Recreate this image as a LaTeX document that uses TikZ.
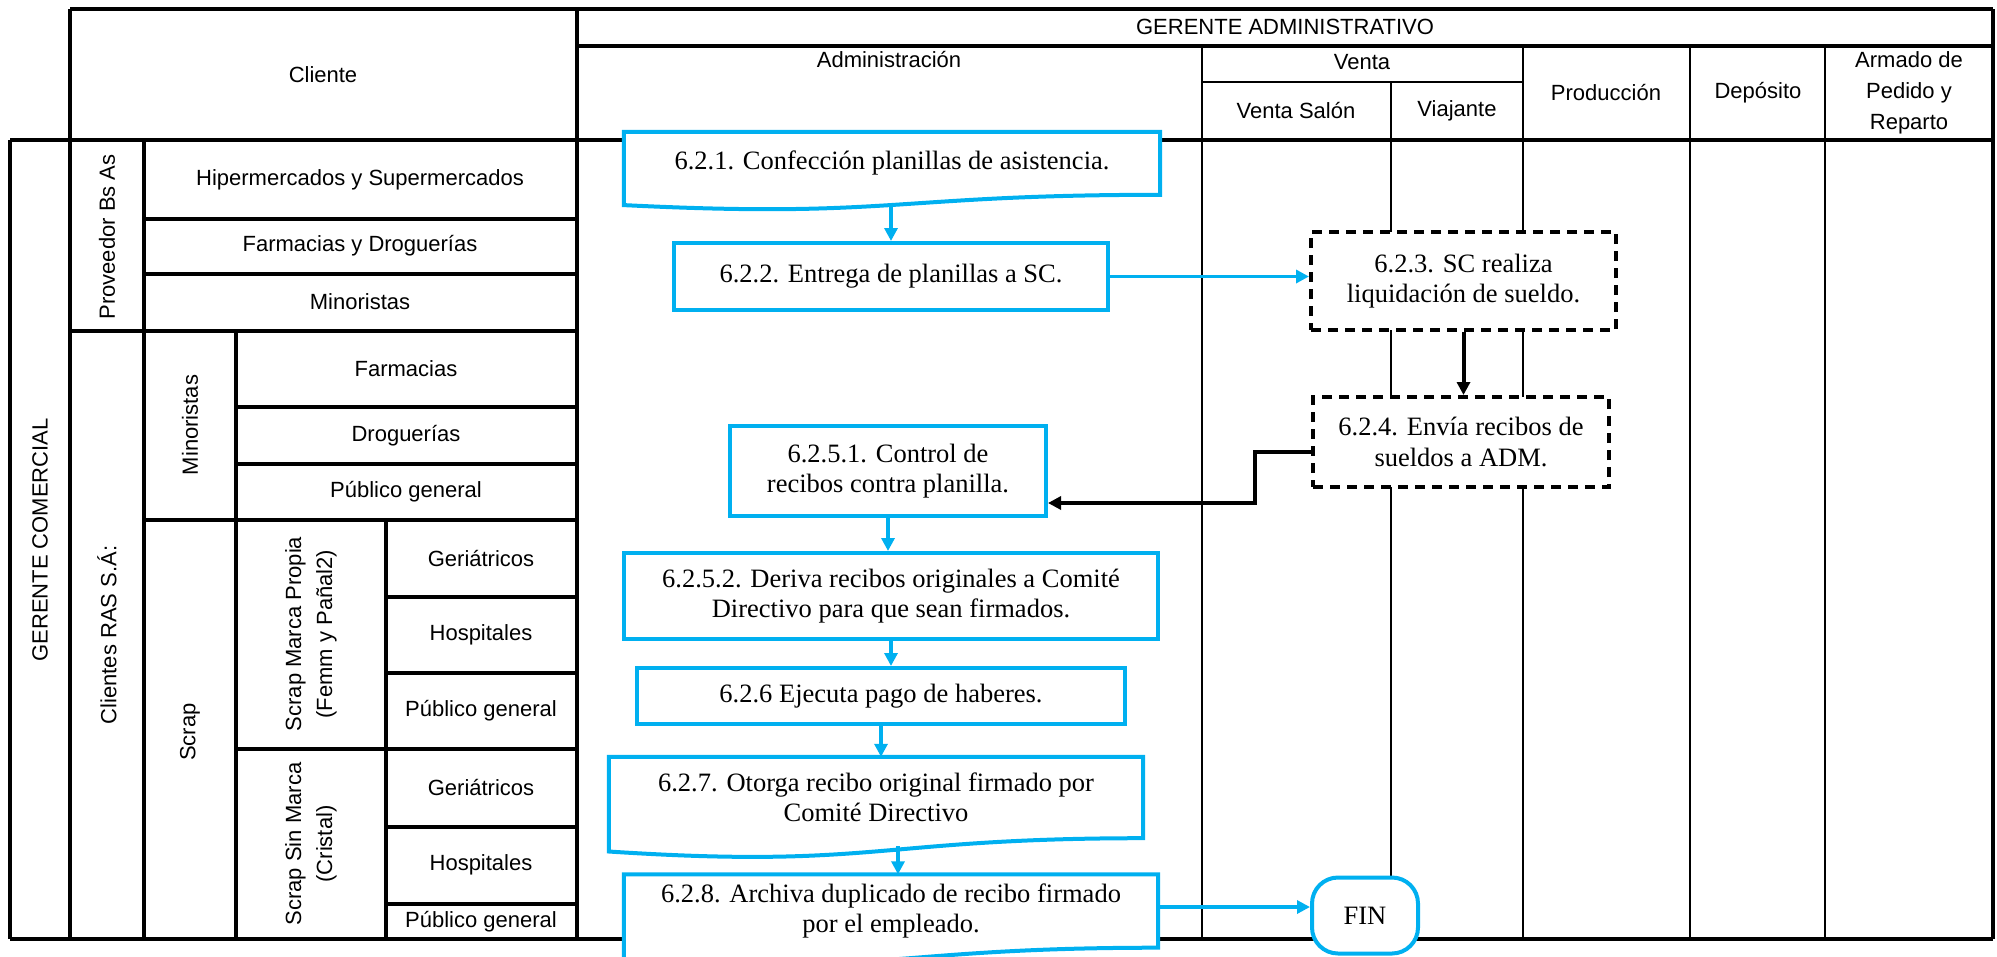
\documentclass[tikz,border=0pt]{standalone}
\usepackage{fontspec}
\setmainfont{Liberation Serif}
\newfontfamily\hdfont{Liberation Sans}
\usetikzlibrary{arrows.meta,calc}
\definecolor{flowblue}{RGB}{0,176,240}
\pgfdeclarelayer{grid}
\pgfdeclarelayer{outline}
\pgfsetlayers{grid,outline,main}

% wavy "document" outline around a named text node:
% #1 node, #2 drop of the second control point, #3 drop of the left end
\newcommand\docoutline[3]{%
  \begin{pgfonlayer}{outline}
    \draw[docline] (#1.north west) -- (#1.north east) -- (#1.south east)
      .. controls (#1.south) and ($(#1.south)+(0,#2)$) .. ($(#1.south west)+(0,#3)$) -- cycle;
  \end{pgfonlayer}}

\begin{document}
\begin{tikzpicture}[x=1pt,y=-1pt,
  heavy/.style={line width=3.2pt},
  light/.style={line width=1.6pt},
  hd/.style={font=\hdfont\fontsize{22}{31}\selectfont, align=center, inner sep=0pt},
  txt/.style={font=\fontsize{26.5}{30.5}\selectfont, align=center, inner sep=0pt},
  proc/.style={txt, draw=flowblue, line width=4pt, fill=white},
  docbox/.style={txt},
  docline/.style={draw=flowblue, line width=4pt, fill=white},
  sctask/.style={txt, draw=black, line width=4pt, dash pattern=on 10pt off 7pt, fill=white},
  term/.style={txt, draw=flowblue, line width=4pt, fill=white, rounded corners=26pt},
  barrow/.style={draw=flowblue, line width=3.5pt, -{Triangle[length=13pt,width=13pt]}},
  karrow/.style={draw=black, line width=4pt, -{Triangle[length=13pt,width=13pt]}}]

\useasboundingbox (0,0) rectangle (1997,956);

% ---------- swimlane grid ----------
\begin{pgfonlayer}{grid}
  % outer frame and header
  \draw[heavy] (70,9) -- (1993,9);
  \draw[heavy] (70,9) -- (70,939);
  \draw[heavy] (10,140) -- (10,939);
  \draw[heavy] (10,140) -- (1993,140);
  \draw[heavy] (10,939) -- (1993,939);
  \draw[heavy] (1993,9) -- (1993,939);
  \draw[heavy] (577,9) -- (577,939);
  \draw[heavy] (577,46) -- (1993,46);
  % client table
  \draw[heavy] (144,140) -- (144,939);
  \draw[heavy] (70,331) -- (577,331);
  \draw[heavy] (144,219) -- (577,219);
  \draw[heavy] (144,274) -- (577,274);
  \draw[heavy] (236,331) -- (236,939);
  \draw[heavy] (236,407) -- (577,407);
  \draw[heavy] (236,464) -- (577,464);
  \draw[heavy] (144,520) -- (577,520);
  \draw[heavy] (386,520) -- (386,939);
  \draw[heavy] (236,749) -- (577,749);
  \draw[heavy] (386,597) -- (577,597);
  \draw[heavy] (386,673) -- (577,673);
  \draw[heavy] (386,827) -- (577,827);
  \draw[heavy] (386,904) -- (577,904);
  % department lanes
  \draw[light] (1202,46) -- (1202,939);
  \draw[light] (1202,82) -- (1523,82);
  \draw[light] (1391,82) -- (1391,939);
  \draw[light] (1523,46) -- (1523,939);
  \draw[light] (1690,46) -- (1690,939);
  \draw[light] (1825,46) -- (1825,939);
\end{pgfonlayer}

% ---------- header labels ----------
\node[hd] (hCliente) at (323,75) {Cliente};
\node[hd] (hGA) at (1285,27) {GERENTE ADMINISTRATIVO};
\node[hd] (hAdm) at (889,60) {Administración};
\node[hd] (hVenta) at (1362,62) {Venta};
\node[hd] (hSalon) at (1296,111) {Venta Salón};
\node[hd] (hViaj) at (1457,111) {Viajante};
\node[hd] (hProd) at (1606,93) {Producción};
\node[hd] (hDep) at (1758,93) {Depósito};
\node[hd] (hArm) at (1909,93) {Armado de\\Pedido y\\Reparto};

% ---------- client table labels ----------
\node[hd, rotate=90] (gc) at (40,540) {GERENTE COMERCIAL};
\node[hd, rotate=90] (prov) at (107,237) {Proveedor Bs As};
\node[hd, rotate=90] (cras) at (107,635) {Clientes RAS S.Á:};
\node[hd, rotate=90] (mino) at (190,425) {Minoristas};
\node[hd, rotate=90] (scrap) at (190,732) {Scrap};
\node[hd, rotate=90] (smp) at (311,634) {Scrap Marca Propia\\(Femm y Pañal2)};
\node[hd, rotate=90] (ssm) at (311,844) {Scrap Sin Marca\\(Cristal)};
\node[hd] (r1) at (360,180) {Hipermercados y Supermercados};
\node[hd] (r2) at (360,246) {Farmacias y Droguerías};
\node[hd] (r3) at (360,302) {Minoristas};
\node[hd] (r4) at (406,369) {Farmacias};
\node[hd] (r5) at (406,436) {Droguerías};
\node[hd] (r6) at (406,492) {Público general};
\node[hd] (r7) at (481,558) {Geriátricos};
\node[hd] (r8) at (481,635) {Hospitales};
\node[hd] (r9) at (481,711) {Público general};
\node[hd] (r10) at (481,787) {Geriátricos};
\node[hd] (r11) at (481,865) {Hospitales};
\node[hd] (r12) at (481,922) {Público general};

% ---------- process steps ----------
\node[docbox, minimum width=536pt, minimum height=62.6pt] (n621) at (892,163.3)
  {6.2.1. Confección planillas de asistencia.};
\docoutline{n621}{23.7}{10.3}
\node[proc, minimum width=434pt, minimum height=67pt] (n622) at (891,276.5)
  {6.2.2. Entrega de planillas a SC.};
\node[sctask, minimum width=305pt, minimum height=98pt] (n623) at (1463.5,281)
  {6.2.3. SC realiza\\liquidación de sueldo.};
\node[sctask, minimum width=296pt, minimum height=90pt] (n624) at (1461,442)
  {6.2.4. Envía recibos de\\sueldos a ADM.};
\node[proc, minimum width=316pt, minimum height=90pt] (n6251) at (888,471)
  {6.2.5.1. Control de\\recibos contra planilla.};
\node[proc, minimum width=534pt, minimum height=86pt] (n6252) at (891,596)
  {6.2.5.2. Deriva recibos originales a Comité\\Directivo para que sean firmados.};
\node[proc, minimum width=488pt, minimum height=56pt] (n626) at (881,696)
  {6.2.6 Ejecuta pago de haberes.};
\node[docbox, minimum width=534pt, minimum height=81pt] (n627) at (876,797.5)
  {6.2.7. Otorga recibo original firmado por\\Comité Directivo};
\docoutline{n627}{30.8}{13.3}
\node[docbox, minimum width=534pt, minimum height=73pt] (n628) at (891,911)
  {6.2.8. Archiva duplicado de recibo firmado\\por el empleado.};
\docoutline{n628}{27.8}{12}
\node[term, minimum width=106pt, minimum height=76pt] (fin) at (1365,915.5) {FIN};

% ---------- connectors ----------
\draw[barrow] ($(n622.north |- n621.south)+(0,11)$) -- (n622.north);
\draw[barrow] (n622.east) -- (n622.east -| n623.west);
\draw[karrow] (n623.south) -- (n623.south |- n624.north);
\draw[karrow] ([yshift=-10pt]n624.west) -- ++(-56,0) |- ([yshift=-32pt]n6251.east);
\draw[barrow] (n6251.south) -- (n6251.south |- n6252.north);
\draw[barrow] (n6252.south) -- (n6252.south |- n626.north);
\draw[barrow] (n626.south) -- (n626.south |- n627.north);
\draw[barrow] ($(n628.north |- n627.south)+(7,8)$) -- ($(n628.north)+(7,0)$);
\draw[barrow] ([yshift=4pt]n628.east) -- ([yshift=4pt]n628.east -| fin.west);
\end{tikzpicture}
\end{document}
